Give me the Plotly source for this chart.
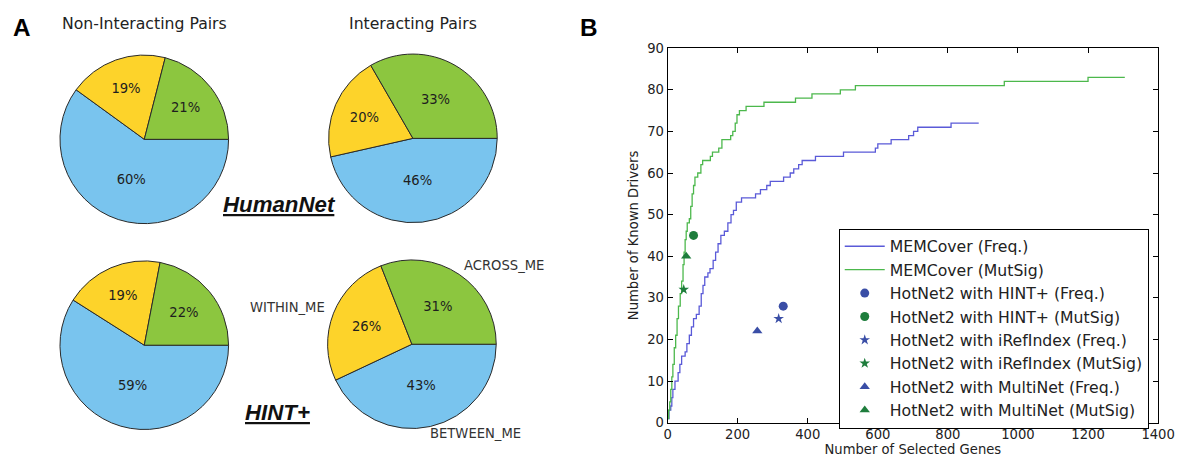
import plotly.graph_objects as go

W, H = 1181, 457          # reference pixel space used for all placements
FW, FH = 1196, 463        # rendered figure size (matches the photographed area)
S = FW / W

# ---------------- data ----------------
pie_labels = ["BETWEEN_ME", "WITHIN_ME", "ACROSS_ME"]
pie_colors = ["#79c4ee", "#fdd32a", "#8cc63f"]
humannet_non = [60, 19, 21]
humannet_int = [46, 20, 33]
hint_non = [59, 19, 22]
hint_int = [43, 26, 31]

memcover_freq_x = [0, 4, 9, 12, 15, 21, 30, 35, 40, 50, 55, 62, 68, 74, 82, 90, 96, 101, 106, 115,
                   121, 130, 137, 144, 152, 162, 172, 181, 188, 196, 211, 251, 265, 283, 293, 331,
                   350, 360, 374, 384, 422, 502, 593, 600, 638, 688, 702, 714, 809, 888]
memcover_freq_y = [1, 3, 4, 6, 8, 10, 12, 14, 16, 17, 19, 21, 23, 25, 26, 28, 31, 33, 35, 36,
                   37, 39, 41, 43, 45, 46, 48, 50, 51, 53, 54, 55, 56, 57, 58, 59,
                   60, 61, 62, 63, 64, 65, 66, 67, 68, 69, 70, 71, 72, 72]

memcover_mut_x = [0, 3, 6, 9, 12, 15, 19, 23, 27, 31, 36, 40, 44, 47, 50, 53, 56, 62, 66, 70, 74,
                  78, 86, 95, 100, 122, 128, 146, 155, 180, 186, 193, 198, 205, 224, 275, 365,
                  412, 493, 536, 961, 1200, 1305]
memcover_mut_y = [1, 3, 5, 8, 11, 14, 18, 21, 25, 28, 31, 34, 38, 41, 44, 46, 48, 49, 52, 55, 57,
                  59, 60, 62, 63, 64, 65, 66, 68, 69, 70, 72, 74, 75, 76, 77, 78,
                  79, 80, 81, 82, 83, 83]

hint_freq = ([330], [28])
hint_mut = ([74], [45])
iref_freq = ([317], [25])
iref_mut = ([46], [32])
multi_freq = ([256], [22])
multi_mut = ([53], [40])

x_ticks = [0, 200, 400, 600, 800, 1000, 1200, 1400]
y_ticks = [0, 10, 20, 30, 40, 50, 60, 70, 80, 90]

# ---------------- figure ----------------
fig = go.Figure()
FONT = "DejaVu Sans"


def fs(v):
    return round(v * S, 2)


def pie_domain(cx, cy, r):
    return dict(x=[(cx - r) / W, (cx + r) / W], y=[(H - cy - r) / H, (H - cy + r) / H])


pies = [
    (humannet_non, 141, 135),
    (humannet_int, 411, 134),
    (hint_non, 141, 345),
    (hint_int, 410, 344),
]
for vals, cx, cy in pies:
    fig.add_trace(go.Pie(
        labels=pie_labels, values=vals, sort=False,
        direction="clockwise", rotation=90,
        marker=dict(colors=pie_colors, line=dict(color="#2a2a2a", width=1)),
        texttemplate="%{value}%", textposition="inside",
        insidetextorientation="horizontal",
        textfont=dict(family=FONT, size=fs(13), color="#1e1e1e"),
        domain=pie_domain(cx, cy, 86), showlegend=False, hoverinfo="skip",
    ))

LINE_BLUE = "#5a5ad8"
LINE_GREEN = "#4cb84c"
MK_BLUE = "#3a4ea6"
MK_GREEN = "#1e7d3c"

fig.add_trace(go.Scatter(x=memcover_freq_x, y=memcover_freq_y, mode="lines", line_shape="hv",
                         line=dict(color=LINE_BLUE, width=1.3), name="MEMCover (Freq.)",
                         legendgroup="a"))
fig.add_trace(go.Scatter(x=memcover_mut_x, y=memcover_mut_y, mode="lines", line_shape="hv",
                         line=dict(color=LINE_GREEN, width=1.3), name="MEMCover (MutSig)",
                         legendgroup="b"))

pts = [
    (hint_freq, "circle", MK_BLUE, 9, "HotNet2 with HINT+ (Freq.)"),
    (hint_mut, "circle", MK_GREEN, 9, "HotNet2 with HINT+ (MutSig)"),
    (iref_freq, "star", MK_BLUE, 8, "HotNet2 with iRefIndex (Freq.)"),
    (iref_mut, "star", MK_GREEN, 8, "HotNet2 with iRefIndex (MutSig)"),
    (multi_freq, "triangle-up", MK_BLUE, 9, "HotNet2 with MultiNet (Freq.)"),
    (multi_mut, "triangle-up", MK_GREEN, 9, "HotNet2 with MultiNet (MutSig)"),
]
for i, ((px, py), sym, col, sz, name) in enumerate(pts):
    fig.add_trace(go.Scatter(x=px, y=py, mode="markers", name=name, legendgroup="g%d" % i,
                             marker=dict(symbol=sym, color=col, size=sz, line=dict(width=0))))

axis_common = dict(showline=True, linecolor="black", linewidth=1, mirror="allticks",
                   ticks="inside", ticklen=5, tickcolor="black", showgrid=False, zeroline=False,
                   tickfont=dict(family=FONT, size=fs(13), color="#222"))

x0, x1, y0, y1 = 667, 1160, 424, 42
fig.update_layout(
    width=FW, height=FH,
    margin=dict(l=0, r=0, t=0, b=0),
    paper_bgcolor="white", plot_bgcolor="white",
    font=dict(family=FONT, color="#222"),
    xaxis=dict(domain=[x0 / W, x1 / W], range=[0, 1400], tickvals=x_ticks, anchor="y",
               title=dict(text="Number of Selected Genes", font=dict(size=fs(13), family=FONT), standoff=2),
               **axis_common),
    yaxis=dict(domain=[(H - y0) / H, (H - y1) / H], range=[0, 90], tickvals=y_ticks, anchor="x",
               title=dict(text="Number of Known Drivers", font=dict(size=fs(13), family=FONT), standoff=5),
               **axis_common),
    legend=dict(x=839 / W, y=(H - 226) / H, xanchor="left", yanchor="top",
                bgcolor="white", bordercolor="black", borderwidth=1,
                font=dict(family=FONT, size=fs(15.5), color="#222"), tracegroupgap=0,
                itemwidth=40),
)

ann = [
    dict(text="<b>A</b>", x=18, y=21, size=24, fam="Liberation Sans", col="black"),
    dict(text="<b>B</b>", x=588, y=21, size=24, fam="Liberation Sans", col="black"),
    dict(text="Non-Interacting Pairs", x=141, y=17, size=15.5, fam=FONT, col="#222"),
    dict(text="Interacting Pairs", x=411, y=17, size=15.5, fam=FONT, col="#222"),
    dict(text="<b><i><u>HumanNet</u></i></b>", x=277, y=201, size=22, fam="Liberation Sans", col="#111"),
    dict(text="<b><i><u>HINT+</u></i></b>", x=275, y=414, size=22, fam="Liberation Sans", col="#111"),
    dict(text="WITHIN_ME", x=285, y=307, size=13, fam=FONT, col="#333"),
    dict(text="ACROSS_ME", x=503, y=264, size=13, fam=FONT, col="#333"),
    dict(text="BETWEEN_ME", x=474, y=435, size=13, fam=FONT, col="#333"),
]
for a in ann:
    fig.add_annotation(xref="paper", yref="paper", showarrow=False, xanchor="center", yanchor="middle",
                       text=a["text"], x=a["x"] / W, y=(H - a["y"]) / H,
                       font=dict(family=a["fam"], size=fs(a["size"]), color=a["col"]))

post = "document.body.style.margin='0px';"
fig.write_html("out.html", config={"displayModeBar": False}, post_script=post)
